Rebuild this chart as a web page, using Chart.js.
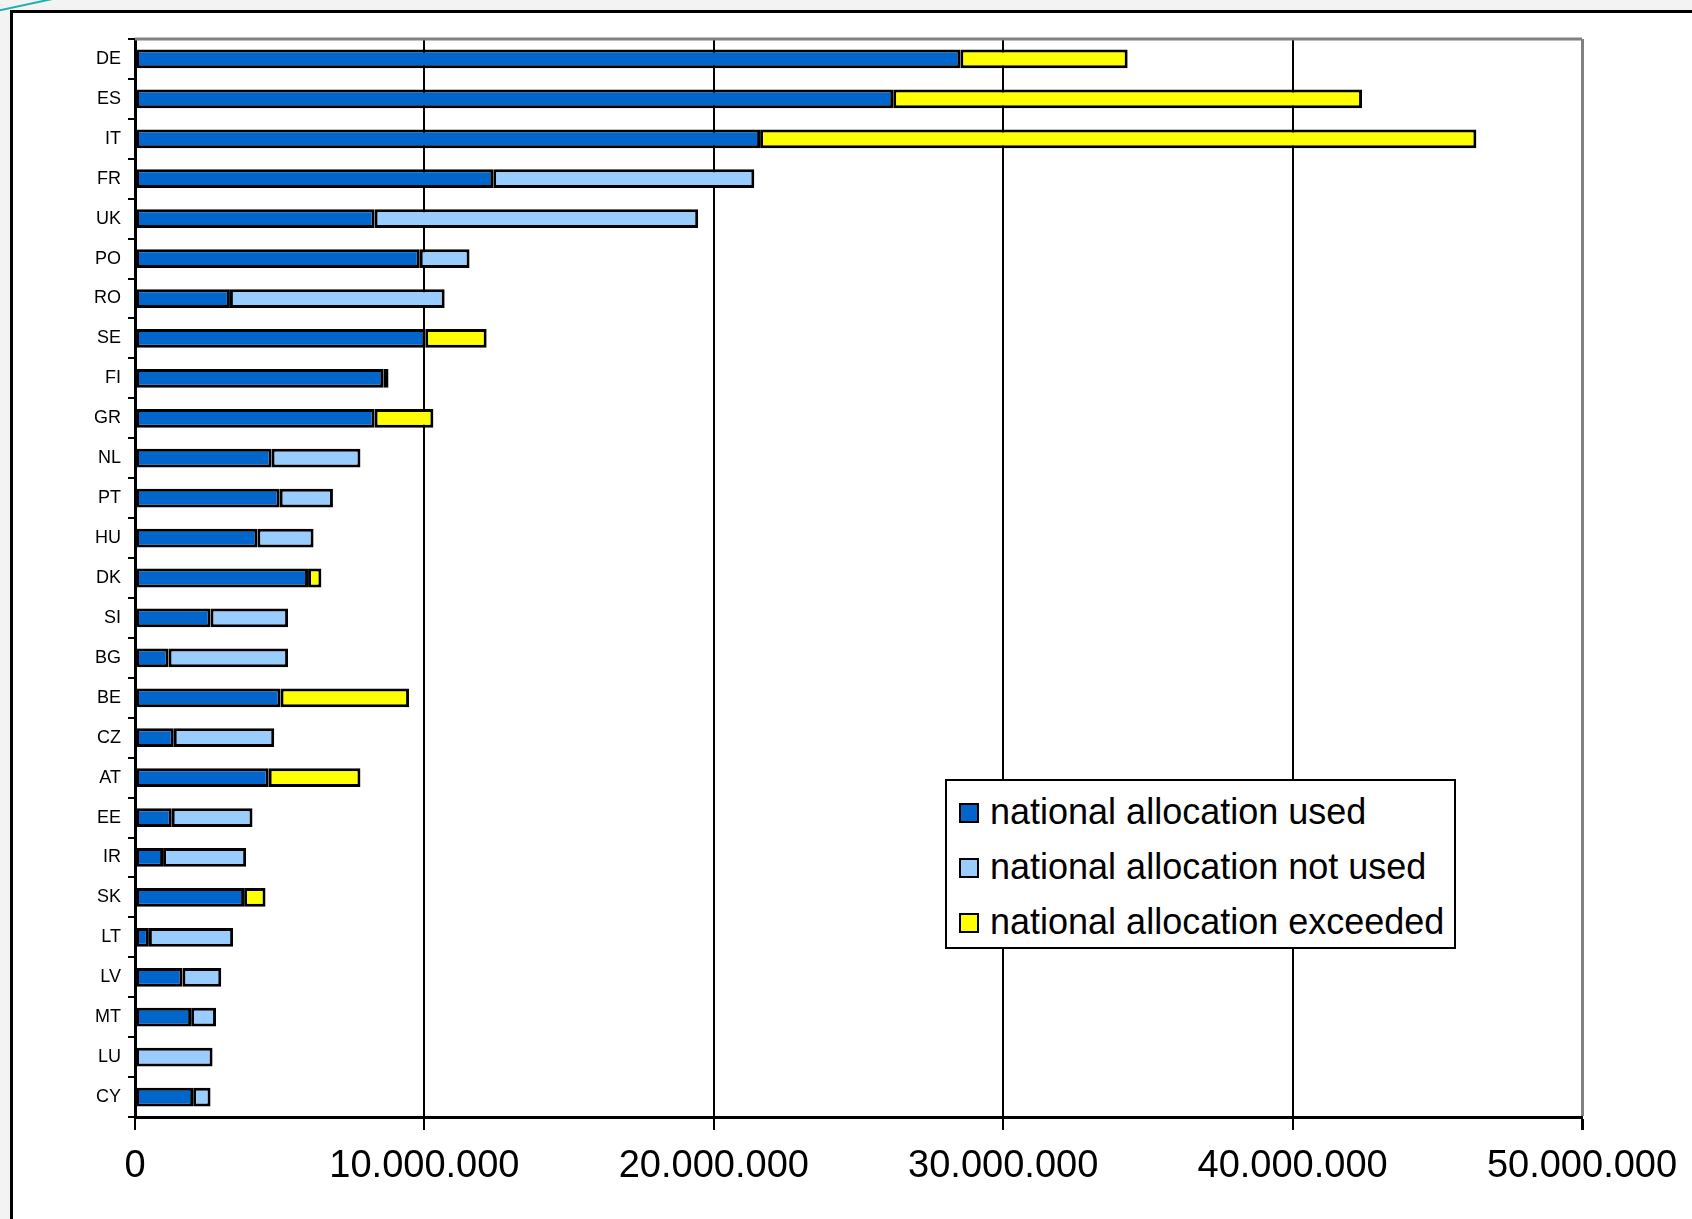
<!DOCTYPE html>
<html lang="en">
<head>
    <meta charset="UTF-8">
    <title>National allocation</title>
    <script src="https://cdn.jsdelivr.net/npm/chart.js"></script>
    <style>
        html, body { margin: 0; padding: 0; }
        body {
            width: 1692px; height: 1219px; overflow: hidden; position: relative;
            background: #f3f3f3;
            font-family: "Liberation Sans", Arial, sans-serif;
        }
        .frame {
            position: absolute; left: 10px; top: 10px; width: 1700px; height: 1230px;
            border-left: 3px solid #000; border-top: 3px solid #000; background: #fff;
        }
        .deco {
            position: absolute; left: -4px; top: 10px; width: 60px; height: 2px;
            background: #20b0b0; transform: rotate(-12deg); transform-origin: left center;
        }
        .chart-area { position: absolute; left: 0; top: 0; width: 1692px; height: 1219px; }
        #legenda {
            position: absolute; left: 945px; top: 779px; width: 507px; height: 163px;
            border: 2px solid #000; background: #fff; padding-top: 3px; box-sizing: content-box;
        }
        #legenda div { height: 55px; line-height: 55px; font-size: 36px; color: #000; white-space: nowrap; }
        #legenda span.box {
            display: inline-block; width: 16px; height: 16px; border: 2px solid #000;
            margin-left: 12px; margin-right: 11px; vertical-align: 1px;
        }
    </style>
</head>
<body>
    <div class="frame"></div>
    <div class="deco"></div>
    <div class="chart-area">
        <canvas id="grafico" width="1692" height="1219"></canvas>
    </div>
    <div id="legenda"></div>

<script>
    var paises = ['DE', 'ES', 'IT', 'FR', 'UK', 'PO', 'RO', 'SE', 'FI', 'GR', 'NL', 'PT', 'HU', 'DK',
        'SI', 'BG', 'BE', 'CZ', 'AT', 'EE', 'IR', 'SK', 'LT', 'LV', 'MT', 'LU', 'CY'];

    // valores em milhões
    var usado = [28.52, 26.2, 21.6, 12.38, 8.28, 9.84, 3.28, 10.03, 8.58, 8.28, 4.72, 5.0, 4.23, 5.98,
        2.61, 1.16, 5.03, 1.34, 4.62, 1.27, 0.97, 3.77, 0.48, 1.64, 1.94, null, 2.01];
    var naoUsado = [null, null, null, 9.02, 11.18, 1.72, 7.42, null, 0.18, null, 3.07, 1.84, 1.94, null,
        2.68, 4.13, null, 3.47, null, 2.79, 2.87, null, 2.91, 1.34, 0.86, 2.68, 0.6];
    var excedido = [5.78, 16.2, 24.75, null, null, null, null, 2.12, null, 2.03, null, null, null, 0.46,
        null, null, 4.44, null, 3.17, null, null, 0.74, null, null, null, null, null];

    var ticksX = [0, 10, 20, 30, 40, 50];

    function milhoes(lista) {
        return lista.map(v => v == null ? null : v * 1000000);
    }

    function formatar(v) {
        return String(Math.round(v)).replace(/\B(?=(\d{3})+(?!\d))/g, '.');
    }

    const molduraTopo = {
        id: 'molduraTopo',
        afterDraw(chart) {
            const a = chart.chartArea;
            const ctx = chart.ctx;
            ctx.save();
            ctx.strokeStyle = '#808080';
            ctx.lineWidth = 3;
            ctx.beginPath();
            ctx.moveTo(a.left, a.top);
            ctx.lineTo(a.right, a.top);
            ctx.stroke();
            ctx.restore();
        }
    };

    const ctx = document.getElementById('grafico').getContext('2d');

    var graficoChart = new Chart(ctx, {
        type: 'bar',
        data: {
            labels: paises,
            datasets: [{
                label: 'national allocation used',
                data: milhoes(usado),
                backgroundColor: '#0066CC'
            }, {
                label: 'national allocation not used',
                data: milhoes(naoUsado),
                backgroundColor: '#99CCFF'
            }, {
                label: 'national allocation exceeded',
                data: milhoes(excedido),
                backgroundColor: '#FFFF00'
            }]
        },
        options: {
            indexAxis: 'y',
            responsive: false,
            animation: false,
            layout: { padding: { left: 0, right: 110, top: 39, bottom: 0 } },
            datasets: {
                bar: {
                    borderColor: '#000',
                    borderWidth: 3,
                    borderSkipped: false,
                    barPercentage: 0.47,
                    categoryPercentage: 1
                }
            },
            plugins: {
                legend: { display: false },
                tooltip: { enabled: false }
            },
            scales: {
                x: {
                    stacked: true,
                    min: 0,
                    max: 50000000,
                    afterBuildTicks(scale) {
                        scale.ticks = ticksX.map(v => ({ value: v * 1000000 }));
                    },
                    afterFit(scale) {
                        scale.height = 102;
                        scale.paddingLeft = 0;
                        scale.paddingRight = 0;
                    },
                    border: { display: true, color: '#000', width: 3 },
                    grid: {
                        color: c => (c.tick && c.tick.value === 50000000) ? '#808080' : '#000',
                        tickColor: '#000',
                        lineWidth: c => (c.tick && c.tick.value === 50000000) ? 3 : 2,
                        tickLength: 13
                    },
                    ticks: {
                        color: '#000',
                        padding: 14,
                        maxRotation: 0,
                        font: { family: '"Liberation Sans", Arial', size: 38 },
                        callback: v => formatar(v)
                    }
                },
                y: {
                    stacked: true,
                    afterFit(scale) { scale.width = 135; },
                    border: { display: true, color: '#000', width: 3 },
                    grid: {
                        offset: true,
                        drawOnChartArea: false,
                        color: '#000',
                        lineWidth: 2,
                        tickLength: 7
                    },
                    ticks: {
                        color: '#000',
                        padding: 7,
                        font: { family: '"Liberation Sans", Arial', size: 18 }
                    }
                }
            }
        },
        plugins: [molduraTopo]
    });

    // legenda em html
    var legenda = document.getElementById('legenda');
    Chart.defaults.plugins.legend.labels.generateLabels(graficoChart).forEach(item => {
        var linha = document.createElement('div');
        var caixa = document.createElement('span');
        caixa.className = 'box';
        caixa.style.background = item.fillStyle;
        linha.appendChild(caixa);
        linha.appendChild(document.createTextNode(item.text));
        legenda.appendChild(linha);
    });
</script>
</body>
</html>
